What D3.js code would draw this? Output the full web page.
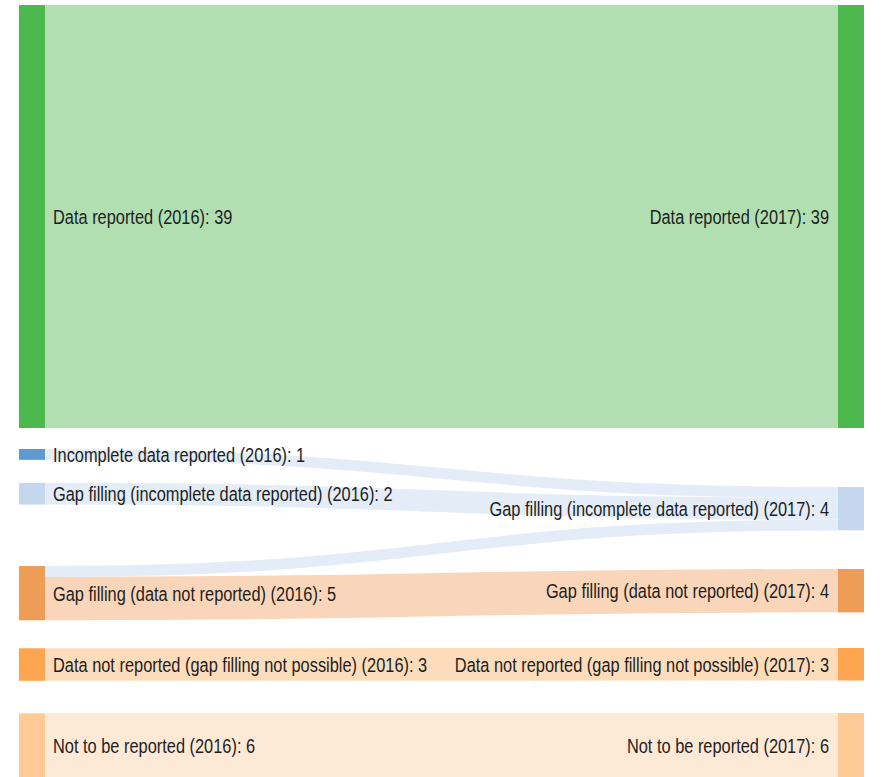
<!DOCTYPE html>
<html>
<head>
<meta charset="utf-8">
<script src="https://cdn.jsdelivr.net/npm/d3@7"></script>
<style>
  html, body { margin: 0; padding: 0; background: #fff; }
  svg { display: block; }
  text { font-family: "Liberation Sans", Arial, sans-serif; font-size: 21px; fill: #1e1e1e; }
</style>
</head>
<body>
<main></main>
<script>
const width = 882;
const height = 777;

const nodeNames = [
  "Data reported (2016)",
  "Incomplete data reported (2016)",
  "Gap filling (incomplete data reported) (2016)",
  "Gap filling (data not reported) (2016)",
  "Data not reported (gap filling not possible) (2016)",
  "Not to be reported (2016)",
  "Data reported (2017)",
  "Gap filling (incomplete data reported) (2017)",
  "Gap filling (data not reported) (2017)",
  "Data not reported (gap filling not possible) (2017)",
  "Not to be reported (2017)"
];
const nodeColumn = [0, 0, 0, 0, 0, 0, 1, 1, 1, 1, 1];
const nodeColors = ["#4db84d", "#5b9bd2", "#c4d7ef", "#ee9d57", "#fea552", "#fecb98",
                    "#4db84d", "#c4d7ef", "#ee9d57", "#fea552", "#fecb98"];
// link fill follows the target node
const linkColors = {6: "#b2dfb2", 7: "#e4ecf7", 8: "#f9d6b9", 9: "#fddcbb", 10: "#fee9d6"};

// links: source index, target index, value
const linkSource = [0, 1, 2, 3, 3, 4, 5];
const linkTarget = [6, 7, 7, 7, 8, 9, 10];
const linkValue  = [39, 1, 2, 1, 4, 3, 6];

// layout (px)
const topY = 5;
const nodeWidth = 26;
const colX = [19, 838];
const unitPx = 423 / 39;
const colGaps = [[21, 23, 61.5, 28, 32.5], [59, 38.6, 35.6, 32.5]];
const textSquash = 0.78; // narrow face stand-in

const nodes = nodeNames.map((name, i) => ({name, col: nodeColumn[i], color: nodeColors[i], inLinks: [], outLinks: []}));
const links = linkSource.map((s, i) => ({source: nodes[s], target: nodes[linkTarget[i]], value: linkValue[i], color: linkColors[linkTarget[i]]}));
links.forEach(l => { l.source.outLinks.push(l); l.target.inLinks.push(l); });
nodes.forEach(n => {
  n.value = Math.max(d3.sum(n.inLinks, l => l.value), d3.sum(n.outLinks, l => l.value));
});

const y = d3.scaleLinear().domain([0, 1]).range([0, unitPx]);

[0, 1].forEach(c => {
  let y0 = topY;
  nodes.filter(n => n.col === c).forEach((n, i) => {
    if (i > 0) y0 += colGaps[c][i - 1];
    n.x0 = colX[c];
    n.x1 = colX[c] + nodeWidth;
    n.y0 = y0;
    n.y1 = y0 + y(n.value);
    y0 = n.y1;
  });
});

nodes.forEach(n => {
  let sy = n.y0;
  n.outLinks.forEach(l => { l.width = y(l.value); l.y0 = sy + l.width / 2; sy += l.width; });
  let ty = n.y0;
  n.inLinks.forEach(l => { l.y1 = ty + l.width / 2; ty += l.width; });
});

const svg = d3.select('main').append('svg')
  .attr('width', width)
  .attr('height', height);

const linkPath = d3.linkHorizontal()
  .source(d => [d.source.x1, d.y0])
  .target(d => [d.target.x0, d.y1]);

svg.append("g")
  .selectAll("path")
  .data(links)
  .enter().append("path")
  .attr("d", linkPath)
  .attr("fill", "none")
  .attr("stroke", d => d.color)
  .attr("stroke-width", d => d.width);

svg.append("g")
  .selectAll("rect")
  .data(nodes)
  .enter().append("rect")
  .attr("x", d => d.x0)
  .attr("y", d => d.y0)
  .attr("width", d => d.x1 - d.x0)
  .attr("height", d => d.y1 - d.y0)
  .attr("fill", d => d.color);

svg.append("g")
  .selectAll("text")
  .data(nodes)
  .enter().append("text")
  .attr("transform", d => {
    const tx = d.col === 0 ? d.x1 + 8 : d.x0 - 9;
    return `translate(${tx},${(d.y0 + d.y1) / 2}) scale(${textSquash},1)`;
  })
  .attr("dy", "0.35em")
  .attr("text-anchor", d => d.col === 0 ? "start" : "end")
  .text(d => `${d.name}: ${d.value}`);
</script>
</body>
</html>
